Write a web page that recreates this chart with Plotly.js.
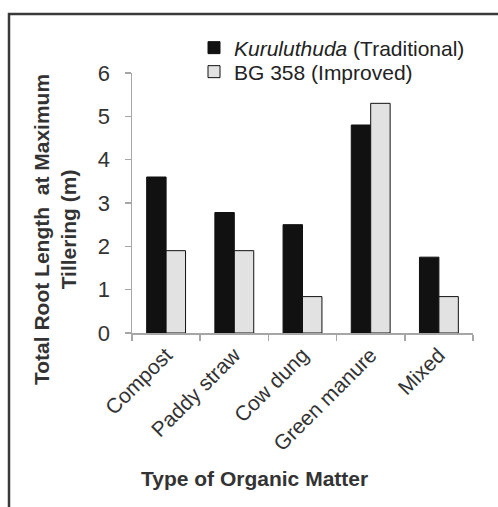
<!DOCTYPE html>
<html>
<head>
<meta charset="utf-8">
<script src="https://cdn.plot.ly/plotly-3.0.1.min.js"></script>
<style>html,body{margin:0;padding:0;background:#fff;}#chart{width:498px;height:507px;}</style>
</head>
<body>
<div id="chart"></div>
<script>
const categories = ["Compost", "Paddy straw", "Cow dung", "Green manure", "Mixed"];
const traditionalValues = [3.6, 2.78, 2.5, 4.8, 1.75];
const improvedValues = [1.9, 1.9, 0.84, 5.3, 0.84];
const seriesNames = ["<i>Kuruluthuda</i> (Traditional)", "BG 358 (Improved)"];
const yTicks = [0, 1, 2, 3, 4, 5, 6];

const W = 498, H = 507;
const L = 132, R = 25, T = 73, B = 174;
const pw = W - L - R, ph = H - T - B;
const px = v => (v - L) / pw;
const py = v => (H - B - v) / ph;

const textColor = "#333333";
const font = "Liberation Sans, Arial, sans-serif";

const data = [
  {type: "bar", x: categories, y: traditionalValues, name: seriesNames[0], legend: "legend",
   marker: {color: "#111111", line: {color: "#111111", width: 1}}},
  {type: "bar", x: categories, y: improvedValues, name: seriesNames[1], legend: "legend2",
   marker: {color: "#e2e2e2", line: {color: "#111111", width: 1}}}
];

const legendBase = {xanchor: "left", yanchor: "middle",
  font: {family: font, size: 21, color: "#222222"},
  bgcolor: "rgba(0,0,0,0)", itemwidth: 30, tracegroupgap: 0, borderwidth: 0};

const layout = {
  width: W, height: H,
  margin: {l: L, r: R, t: T, b: B, pad: 0},
  paper_bgcolor: "#ffffff", plot_bgcolor: "#ffffff",
  font: {family: font, color: textColor, size: 21},
  barmode: "group", bargap: 0.43, bargroupgap: 0,
  showlegend: true,
  legend: Object.assign({}, legendBase, {x: px(194), y: py(48)}),
  legend2: Object.assign({}, legendBase, {x: px(194), y: py(72)}),
  xaxis: {type: "category", showline: true, linecolor: "#a6a6a6", linewidth: 1.5,
          ticks: "outside", tickson: "boundaries", ticklen: 6, tickcolor: "#a6a6a6", tickwidth: 1.5,
          tickangle: -45, tickfont: {family: font, size: 21, color: textColor},
          showgrid: false, zeroline: false},
  yaxis: {range: [0, 6], tickvals: yTicks, showline: true, linecolor: "#a6a6a6", linewidth: 1.5,
          ticks: "outside", ticklen: 6, tickcolor: "#a6a6a6", tickwidth: 1.5, ticklabelstandoff: 10,
          tickfont: {family: font, size: 22, color: textColor},
          showgrid: false, zeroline: false},
  annotations: [
    {text: "<b>Type of Organic Matter</b>", xref: "paper", yref: "paper",
     x: px(254), y: py(478), xanchor: "center", yanchor: "middle", showarrow: false,
     font: {family: font, size: 21, color: textColor}},
    {text: "<b>Total Root Length  at Maximum<br>Tillering (m)</b>", xref: "paper", yref: "paper",
     x: px(55), y: py(230), xanchor: "center", yanchor: "middle", showarrow: false, textangle: -90,
     font: {family: font, size: 21, color: textColor}}
  ],
  shapes: [
    {type: "rect", xref: "paper", yref: "paper",
     x0: px(9), x1: px(505), y0: py(515), y1: py(14),
     line: {color: "#3a3a3a", width: 2.5}, fillcolor: "rgba(0,0,0,0)", layer: "above"}
  ]
};

Plotly.newPlot("chart", data, layout, {displayModeBar: false, staticPlot: true});
</script>
</body>
</html>
